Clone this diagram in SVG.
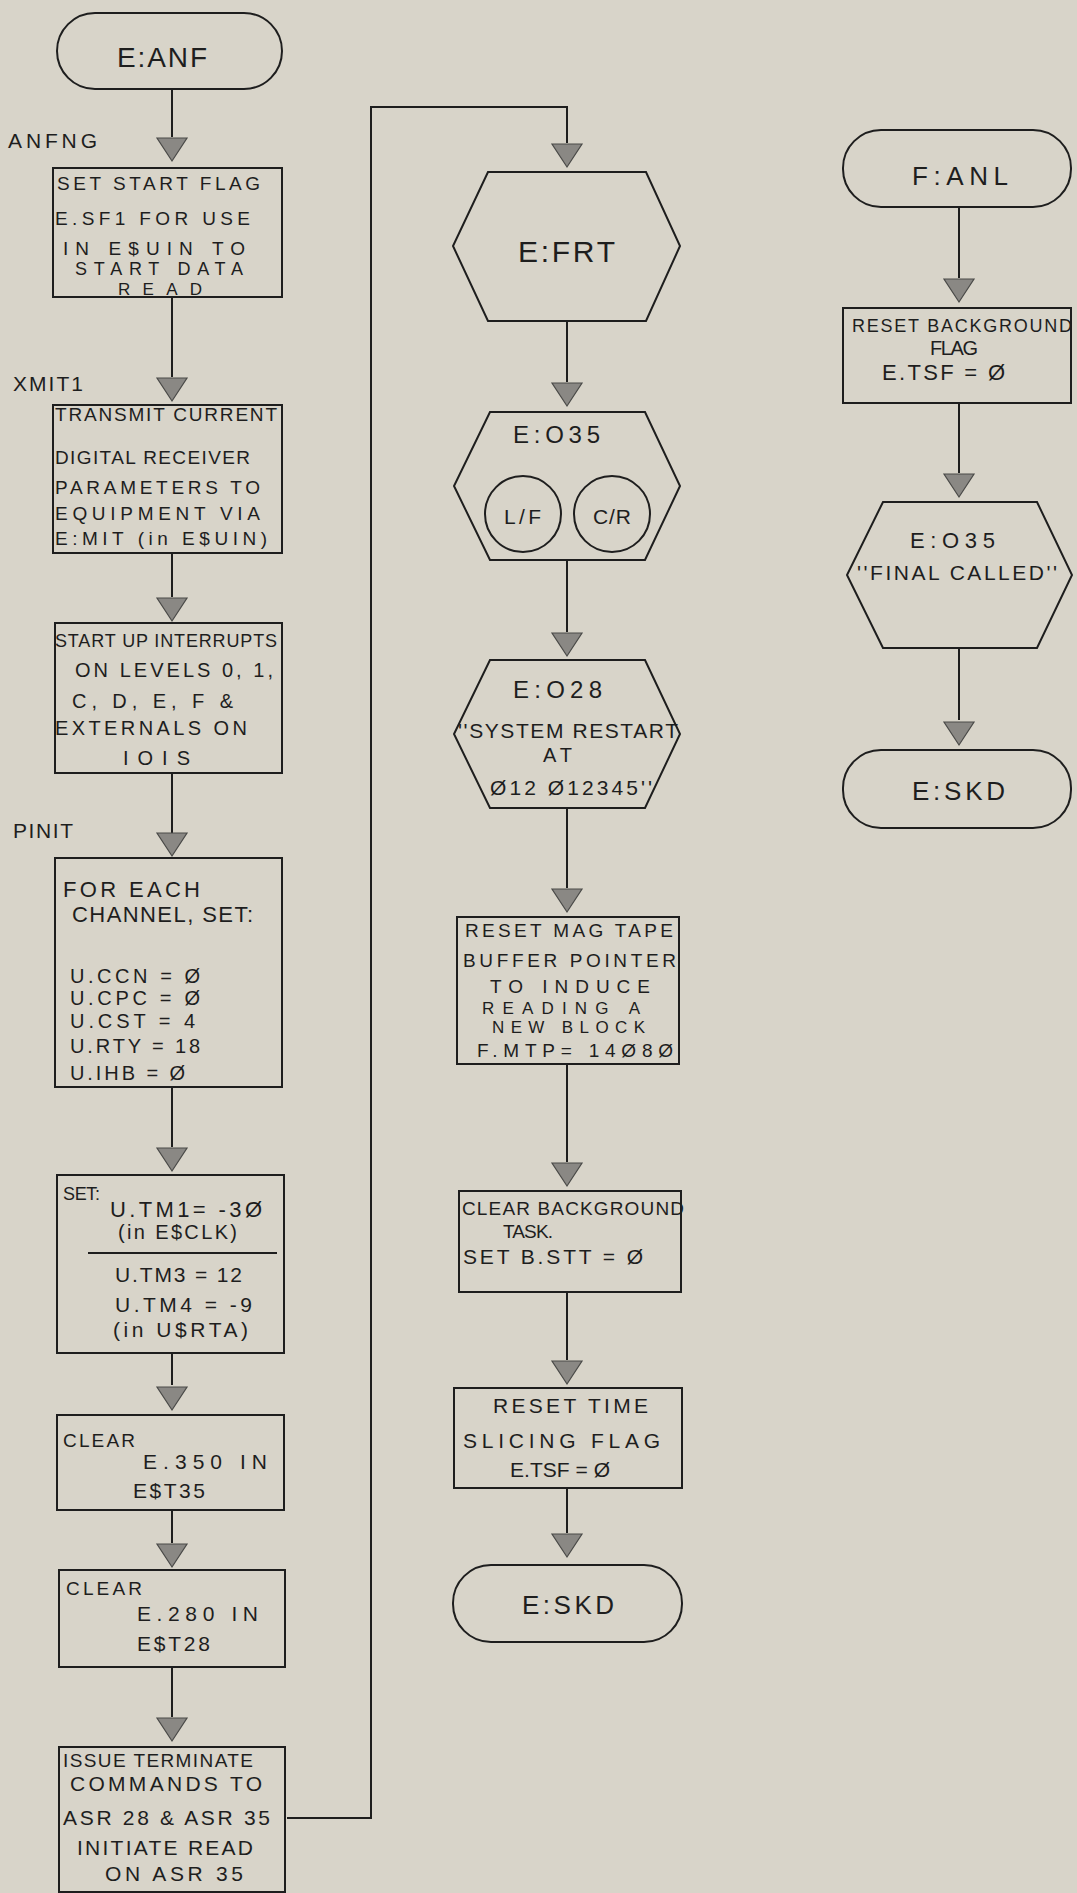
<svg xmlns="http://www.w3.org/2000/svg" xmlns:xlink="http://www.w3.org/1999/xlink" width="1077" height="1893" viewBox="0 0 1077 1893">
<defs>
<style>
.bg{fill:#d8d4c9}
.s{fill:none;stroke:#1e1e1e;stroke-width:2}
.c{fill:none;stroke:#1e1e1e;stroke-width:2}
.a{fill:#8a8884;stroke:#4a4a48;stroke-width:1.2}
text{font-family:"Liberation Sans","DejaVu Sans",sans-serif;fill:#1e1e1e}
.t17{font-size:17px}.t18{font-size:18px}.t19{font-size:19px}.t20{font-size:20px}.t21{font-size:21px}.t22{font-size:22px}.t24{font-size:24px}.t26{font-size:26px}.t28{font-size:28px}.t30{font-size:30px}
</style>
<path id="arr" class="a" d="M-15,0 L15,0 L0,23 Z"/>
</defs>
<rect class="bg" x="0" y="0" width="1077" height="1893"/>

<g id="connectors">
<line class="c" x1="172" y1="89" x2="172" y2="137"/>
<line class="c" x1="172" y1="297" x2="172" y2="377"/>
<line class="c" x1="172" y1="553" x2="172" y2="597"/>
<line class="c" x1="172" y1="773" x2="172" y2="833"/>
<line class="c" x1="172" y1="1087" x2="172" y2="1147"/>
<line class="c" x1="172" y1="1353" x2="172" y2="1385"/>
<line class="c" x1="172" y1="1510" x2="172" y2="1543"/>
<line class="c" x1="172" y1="1667" x2="172" y2="1717"/>
<polyline class="c" points="287,1818 371,1818 371,107 567,107 567,143"/>
<line class="c" x1="567" y1="321" x2="567" y2="382"/>
<line class="c" x1="567" y1="560" x2="567" y2="632"/>
<line class="c" x1="567" y1="808" x2="567" y2="888"/>
<line class="c" x1="567" y1="1064" x2="567" y2="1162"/>
<line class="c" x1="567" y1="1292" x2="567" y2="1360"/>
<line class="c" x1="567" y1="1488" x2="567" y2="1533"/>
<line class="c" x1="959" y1="207" x2="959" y2="278"/>
<line class="c" x1="959" y1="403" x2="959" y2="473"/>
<line class="c" x1="959" y1="648" x2="959" y2="720"/>
<use xlink:href="#arr" x="172" y="138"/>
<use xlink:href="#arr" x="172" y="378"/>
<use xlink:href="#arr" x="172" y="598"/>
<use xlink:href="#arr" x="172" y="833"/>
<use xlink:href="#arr" x="172" y="1148"/>
<use xlink:href="#arr" x="172" y="1387"/>
<use xlink:href="#arr" x="172" y="1544"/>
<use xlink:href="#arr" x="172" y="1718"/>
<use xlink:href="#arr" x="567" y="144"/>
<use xlink:href="#arr" x="567" y="383"/>
<use xlink:href="#arr" x="567" y="633"/>
<use xlink:href="#arr" x="567" y="889"/>
<use xlink:href="#arr" x="567" y="1163"/>
<use xlink:href="#arr" x="567" y="1361"/>
<use xlink:href="#arr" x="567" y="1534"/>
<use xlink:href="#arr" x="959" y="279"/>
<use xlink:href="#arr" x="959" y="474"/>
<use xlink:href="#arr" x="959" y="722"/>
</g>

<g id="labels">
<text class="t21" x="8" y="148" textLength="89">ANFNG</text>
<text class="t21" x="13" y="391" textLength="70">XMIT1</text>
<text class="t21" x="13" y="838" textLength="60">PINIT</text>
</g>

<g id="n-eanf">
<rect class="s" x="57" y="13" width="225" height="76" rx="38" ry="38"/>
<text class="t28" x="117" y="67" textLength="90">E:ANF</text>
</g>

<g id="n-box1">
<rect class="s" x="53" y="168" width="229" height="129"/>
<text class="t19" x="57" y="190" textLength="203">SET START FLAG</text>
<text class="t19" x="55" y="225" textLength="195">E.SF1 FOR USE</text>
<text class="t19" x="63" y="255" textLength="182">IN E$UIN TO</text>
<text class="t18" x="75" y="275" textLength="168">START DATA</text>
<text class="t17" x="118" y="295" textLength="84">READ</text>
</g>

<g id="n-box2">
<rect class="s" x="53" y="405" width="229" height="148"/>
<text class="t19" x="55" y="421" textLength="222">TRANSMIT CURRENT</text>
<text class="t19" x="55" y="464" textLength="195">DIGITAL RECEIVER</text>
<text class="t19" x="55" y="494" textLength="205">PARAMETERS TO</text>
<text class="t19" x="55" y="520" textLength="205">EQUIPMENT VIA</text>
<text class="t19" x="55" y="545" textLength="212">E:MIT (in E$UIN)</text>
</g>

<g id="n-box3">
<rect class="s" x="55" y="623" width="227" height="150"/>
<text class="t18" x="55" y="647" textLength="222">START UP INTERRUPTS</text>
<text class="t20" x="75" y="677" textLength="198">ON LEVELS 0, 1,</text>
<text class="t20" x="72" y="708" textLength="161">C, D, E, F &amp;</text>
<text class="t20" x="55" y="735" textLength="192">EXTERNALS ON</text>
<text class="t20" x="123" y="765" textLength="67">IOIS</text>
</g>

<g id="n-box4">
<rect class="s" x="55" y="858" width="227" height="229"/>
<text class="t22" x="63" y="897" textLength="137">FOR EACH</text>
<text class="t22" x="72" y="922" textLength="181">CHANNEL, SET:</text>
<text class="t20" x="70" y="983" textLength="130">U.CCN = Ø</text>
<text class="t20" x="70" y="1005" textLength="130">U.CPC = Ø</text>
<text class="t20" x="70" y="1028" textLength="125">U.CST = 4</text>
<text class="t20" x="70" y="1053" textLength="130">U.RTY = 18</text>
<text class="t20" x="70" y="1080" textLength="115">U.IHB = Ø</text>
</g>

<g id="n-box5">
<rect class="s" x="57" y="1175" width="227" height="178"/>
<text class="t18" x="63" y="1200" textLength="37">SET:</text>
<text class="t22" x="110" y="1217" textLength="152">U.TM1= -3Ø</text>
<text class="t20" x="118" y="1239" textLength="119">(in E$CLK)</text>
<line class="s" x1="88" y1="1253" x2="277" y2="1253"/>
<text class="t21" x="115" y="1282" textLength="127">U.TM3 = 12</text>
<text class="t21" x="115" y="1312" textLength="137">U.TM4 = -9</text>
<text class="t21" x="113" y="1337" textLength="135">(in U$RTA)</text>
</g>

<g id="n-box6">
<rect class="s" x="57" y="1415" width="227" height="95"/>
<text class="t19" x="63" y="1447" textLength="72">CLEAR</text>
<text class="t21" x="143" y="1469" textLength="124">E.350  IN</text>
<text class="t21" x="133" y="1498" textLength="72">E$T35</text>
</g>

<g id="n-box7">
<rect class="s" x="59" y="1570" width="226" height="97"/>
<text class="t19" x="66" y="1595" textLength="76">CLEAR</text>
<text class="t21" x="137" y="1621" textLength="121">E.280  IN</text>
<text class="t21" x="137" y="1651" textLength="73">E$T28</text>
</g>

<g id="n-box8">
<rect class="s" x="59" y="1747" width="226" height="145"/>
<text class="t19" x="63" y="1767" textLength="190">ISSUE TERMINATE</text>
<text class="t21" x="70" y="1791" textLength="192">COMMANDS TO</text>
<text class="t21" x="63" y="1825" textLength="207">ASR 28 &amp; ASR 35</text>
<text class="t21" x="77" y="1855" textLength="176">INITIATE READ</text>
<text class="t21" x="105" y="1881" textLength="138">ON ASR 35</text>
</g>

<g id="n-efrt">
<polygon class="s" points="488,172 646,172 680,246 646,321 488,321 453,246"/>
<text class="t30" x="518" y="262" textLength="97">E:FRT</text>
</g>

<g id="n-e035a">
<polygon class="s" points="490,412 645,412 680,486 645,560 490,560 454,486"/>
<text class="t24" x="513" y="443" textLength="87">E:O35</text>
<circle class="s" cx="523" cy="514" r="38"/>
<circle class="s" cx="612" cy="514" r="38"/>
<text class="t21" x="504" y="524" textLength="37">L/F</text>
<text class="t21" x="593" y="524" textLength="38">C/R</text>
</g>

<g id="n-e028">
<polygon class="s" points="490,660 645,660 680,734 645,808 490,808 454,734"/>
<text class="t24" x="513" y="698" textLength="89">E:O28</text>
<text class="t21" x="458" y="738" textLength="220">''SYSTEM RESTART</text>
<text class="t20" x="543" y="762" textLength="29">AT</text>
<text class="t21" x="490" y="795" textLength="162">Ø12  Ø12345''</text>
</g>

<g id="n-mag">
<rect class="s" x="457" y="917" width="222" height="147"/>
<text class="t19" x="465" y="937" textLength="208">RESET MAG TAPE</text>
<text class="t19" x="463" y="967" textLength="213">BUFFER POINTER</text>
<text class="t19" x="490" y="993" textLength="160">TO INDUCE</text>
<text class="t17" x="482" y="1014" textLength="158">READING A</text>
<text class="t17" x="492" y="1033" textLength="153">NEW BLOCK</text>
<text class="t19" x="477" y="1057" textLength="196">F.MTP= 14Ø8Ø</text>
</g>

<g id="n-clrbg">
<rect class="s" x="459" y="1191" width="222" height="101"/>
<text class="t19" x="462" y="1215" textLength="222">CLEAR BACKGROUND</text>
<text class="t19" x="503" y="1238" textLength="50">TASK.</text>
<text class="t21" x="463" y="1264" textLength="180">SET  B.STT = Ø</text>
</g>

<g id="n-rtime">
<rect class="s" x="454" y="1388" width="228" height="100"/>
<text class="t21" x="493" y="1413" textLength="155">RESET TIME</text>
<text class="t21" x="463" y="1448" textLength="197">SLICING FLAG</text>
<text class="t21" x="510" y="1477" textLength="100">E.TSF = Ø</text>
</g>

<g id="n-eskd1">
<rect class="s" x="453" y="1565" width="229" height="77" rx="38" ry="38"/>
<text class="t26" x="522" y="1614" textLength="92">E:SKD</text>
</g>

<g id="n-fanl">
<rect class="s" x="843" y="130" width="228" height="77" rx="38" ry="38"/>
<text class="t26" x="912" y="185" textLength="96">F:ANL</text>
</g>

<g id="n-rbg">
<rect class="s" x="843" y="308" width="228" height="95"/>
<text class="t18" x="852" y="332" textLength="220">RESET BACKGROUND</text>
<text class="t20" x="930" y="355" textLength="48">FLAG</text>
<text class="t22" x="882" y="380" textLength="123">E.TSF = Ø</text>
</g>

<g id="n-e035b">
<polygon class="s" points="883,502 1037,502 1072,575 1037,648 883,648 847,575"/>
<text class="t22" x="910" y="548" textLength="85">E:O35</text>
<text class="t21" x="857" y="580" textLength="200">''FINAL CALLED''</text>
</g>

<g id="n-eskd2">
<rect class="s" x="843" y="750" width="228" height="78" rx="38" ry="38"/>
<text class="t26" x="912" y="800" textLength="93">E:SKD</text>
</g>
</svg>
